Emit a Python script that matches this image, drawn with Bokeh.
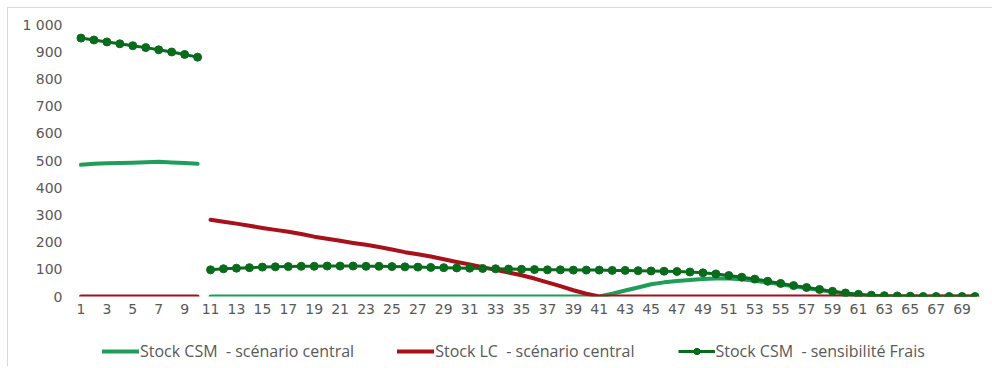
from bokeh.plotting import figure
from bokeh.layouts import column
from bokeh.models import (Range1d, FixedTicker, CustomJSTickFormatter, Legend, LegendItem,
                          ColumnDataSource)
from bokeh.embed import file_html
from bokeh.resources import INLINE

# ---- data ----
periods = list(range(1, 71))
break_after = 10  # series are interrupted between period 10 and 11

csm_central = [484, 488, 490, 491, 492, 494, 495, 493, 491, 488,
               0, 0, 0, 0, 0, 0, 0, 0, 0, 0,
               0, 0, 0, 0, 0, 0, 0, 0, 0, 0,
               0, 0, 0, 0, 0, 0, 0, 0, 0, 0,
               0, 10, 22, 33, 45, 52, 57, 61, 64, 66,
               66, 63, 58, 52, 45, 38, 31, 24, 17, 10,
               4, 0, 0, 0, 0, 0, 0, 0, 0, 0]

lc_central = [0, 0, 0, 0, 0, 0, 0, 0, 0, 0,
              282, 275, 268, 260, 252, 245, 238, 230, 220, 212,
              205, 197, 190, 182, 173, 163, 155, 147, 137, 127,
              118, 108, 98, 88, 78, 66, 52, 38, 23, 10,
              0, 0, 0, 0, 0, 0, 0, 0, 0, 0,
              0, 0, 0, 0, 0, 0, 0, 0, 0, 0,
              0, 0, 0, 0, 0, 0, 0, 0, 0, 0]

csm_frais = [950, 943, 936, 929, 922, 915, 907, 899, 890, 880,
             98, 102, 104, 106, 108, 109, 110, 111, 111, 112,
             112, 112, 111, 111, 110, 109, 108, 107, 106, 105,
             104, 103, 102, 101, 100, 99, 98, 98, 97, 97,
             97, 96, 96, 95, 94, 93, 92, 90, 87, 83,
             77, 71, 64, 56, 48, 40, 33, 26, 19, 13,
             8, 5, 3, 2, 1, 0, 0, 0, 0, 0]

x_tick_labels = list(range(1, 70, 2))
y_ticks = list(range(0, 1001, 100))

labels = ["Stock CSM  - scénario central",
          "Stock LC  - scénario central",
          "Stock CSM  - sensibilité Frais"]
colors = ["#1e9e58", "#a8101a", "#0a6b1c"]
tick_color = "#595959"

# ---- main chart ----
p = figure(width=984, height=314, output_backend="svg", toolbar_location=None,
           x_range=Range1d(0.5, 70.5), y_range=Range1d(0, 1000),
           min_border_left=66, min_border_right=11, min_border_top=16, min_border_bottom=26)
p.outline_line_color = None
p.xgrid.grid_line_color = None
p.ygrid.grid_line_color = None

for ax in (p.xaxis[0], p.yaxis[0]):
    ax.axis_line_color = None
    ax.major_tick_line_color = None
    ax.minor_tick_line_color = None
    ax.major_tick_out = 0
    ax.major_tick_in = 0
    ax.minor_tick_out = 0
    ax.major_label_text_color = tick_color
    ax.major_label_text_font = "DejaVu Sans"
    ax.major_label_text_font_size = "14px"

p.xaxis.ticker = FixedTicker(ticks=x_tick_labels)
p.xaxis.major_label_standoff = 7
p.yaxis.ticker = FixedTicker(ticks=y_ticks)
p.yaxis.major_label_standoff = 12
p.yaxis.formatter = CustomJSTickFormatter(
    code="return String(Math.round(tick)).replace(/\\B(?=(\\d{3})+(?!\\d))/g, ' ');")

segments = [(0, break_after), (break_after, len(periods))]

def seg_source(vals, a, b):
    return ColumnDataSource(dict(x=periods[a:b], y=vals[a:b]))

def draw_series(fig):
    rs = []
    for a, b in segments:
        rs.append(("g", fig.line("x", "y", source=seg_source(csm_central, a, b),
                                 line_color=colors[0], line_width=4,
                                 line_join="round", line_cap="round")))
    for a, b in segments:
        rs.append(("r", fig.line("x", "y", source=seg_source(lc_central, a, b),
                                 line_color=colors[1], line_width=4,
                                 line_join="round", line_cap="round")))
    for a, b in segments:
        src = seg_source(csm_frais, a, b)
        rs.append(("d", fig.line("x", "y", source=src, line_color=colors[2], line_width=3)))
        rs.append(("d", fig.scatter("x", "y", source=src, size=8,
                                    fill_color=colors[2], line_color=colors[2])))
    return rs

draw_series(p)

# ---- legend strip (separate figure so the legend is not clipped);
# the series are drawn there too but lie outside its visible y range ----
lg = figure(width=984, height=44, output_backend="svg", toolbar_location=None,
            x_axis_location=None, y_axis_location=None,
            min_border=0, x_range=Range1d(0.5, 70.5), y_range=Range1d(-20, -10))
lg.outline_line_color = None
lg.xgrid.grid_line_color = None
lg.ygrid.grid_line_color = None
lrs = draw_series(lg)
k_g = [r for t, r in lrs if t == "g"][0]
k_r = [r for t, r in lrs if t == "r"][0]
k_d = [r for t, r in lrs if t == "d"][:2]

legend = Legend(items=[LegendItem(label=labels[0], renderers=[k_g]),
                       LegendItem(label=labels[1], renderers=[k_r]),
                       LegendItem(label=labels[2], renderers=k_d)],
                orientation="horizontal", location=(28, 4),
                border_line_color=None, background_fill_color=None,
                label_text_color=tick_color, label_text_font="Open Sans",
                label_text_font_size="16px", glyph_width=37, glyph_height=16,
                label_height=16, label_standoff=1, spacing=43, padding=0, margin=0)
lg.add_layout(legend, "center")

layout = column(p, lg, spacing=0, margin=(7, 0, 0, 7),
                styles={"border-top": "1px solid #d9d9d9", "border-left": "1px solid #d9d9d9"})

open("out.html", "w").write(file_html(layout, INLINE))
